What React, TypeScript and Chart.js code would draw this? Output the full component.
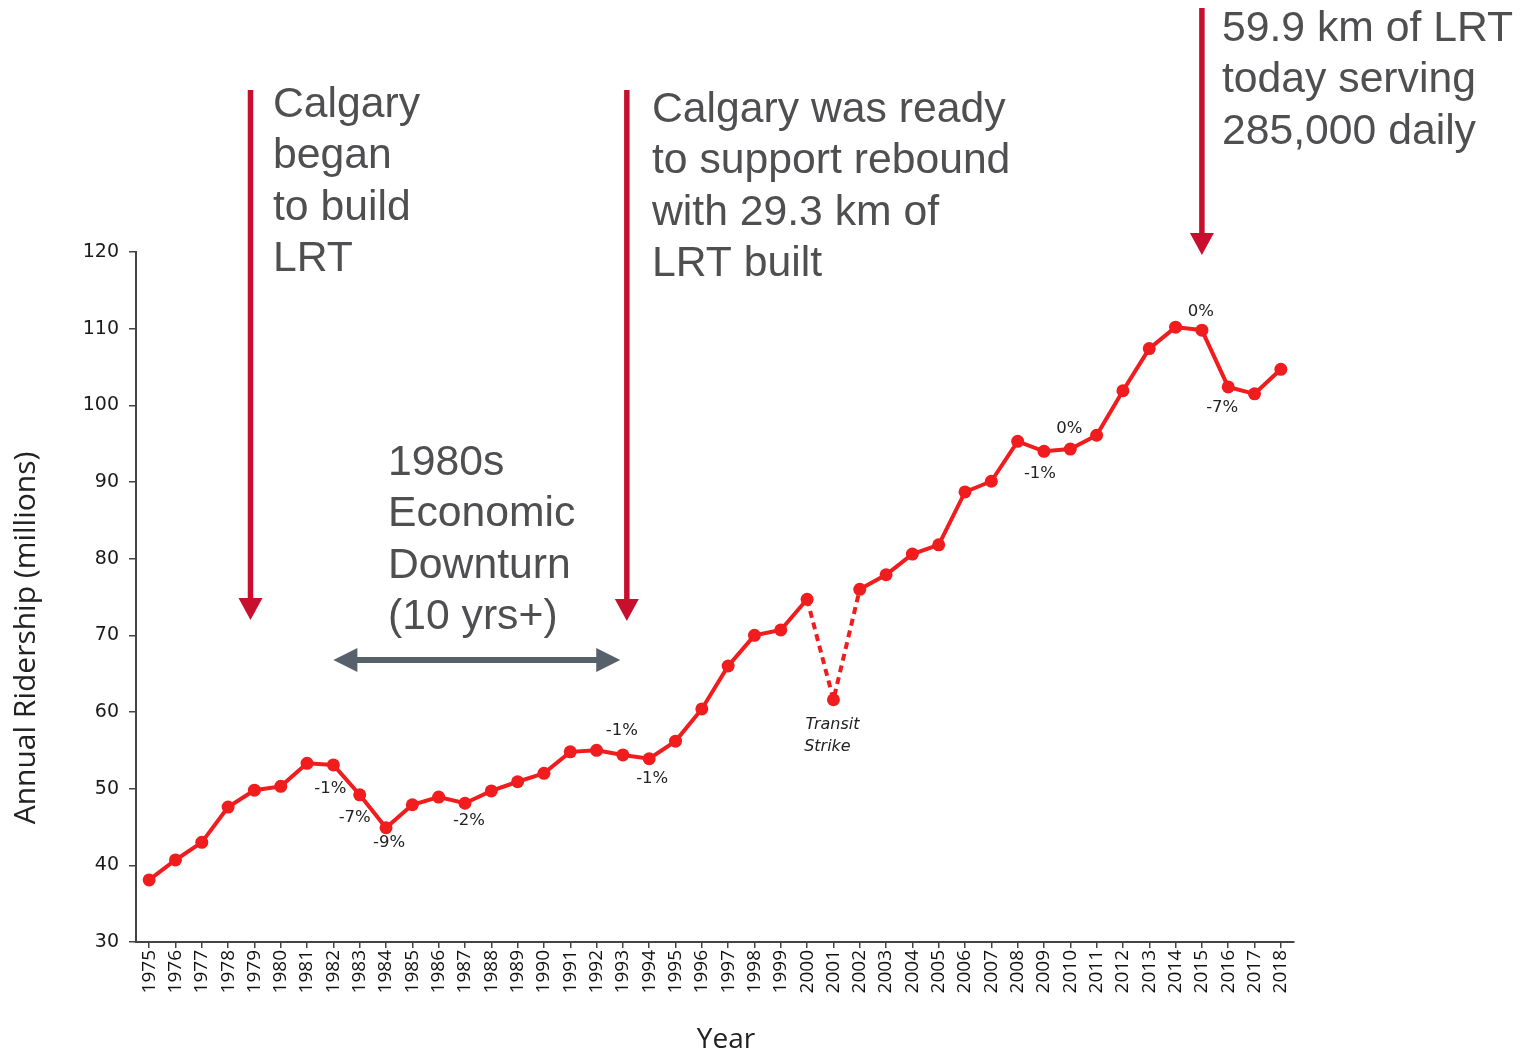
import React, { useEffect, useRef } from "react";
import { Chart, registerables } from "chart.js";

Chart.register(...registerables);

// ---------- data ----------
const YEARS = [
  "1975", "1976", "1977", "1978", "1979", "1980", "1981", "1982", "1983", "1984",
  "1985", "1986", "1987", "1988", "1989", "1990", "1991", "1992", "1993", "1994",
  "1995", "1996", "1997", "1998", "1999", "2000", "2001", "2002", "2003", "2004",
  "2005", "2006", "2007", "2008", "2009", "2010", "2011", "2012", "2013", "2014",
  "2015", "2016", "2017", "2018",
];

const RIDERSHIP = [
  38.1, 40.7, 43.0, 47.6, 49.8, 50.3, 53.3, 53.1, 49.2, 44.9,
  47.9, 48.9, 48.1, 49.7, 50.9, 52.0, 54.8, 55.0, 54.4, 53.9,
  56.2, 60.4, 66.0, 70.0, 70.7, 74.7, 61.6, 76.0, 77.9, 80.6,
  81.8, 88.7, 90.1, 95.3, 94.0, 94.3, 96.1, 101.9, 107.4, 110.2,
  109.8, 102.4, 101.5, 104.7,
];

const Y_TICKS = [30, 40, 50, 60, 70, 80, 90, 100, 110, 120];

const PCT_LABEL_YEARS = ["1982", "1983", "1984", "1987", "1993", "1994", "2009", "2010", "2015", "2016"];
const PCT_LABEL_TEXT = ["-1%", "-7%", "-9%", "-2%", "-1%", "-1%", "-1%", "0%", "0%", "-7%"];

const STRIKE_YEAR = "2001";
const STRIKE_TEXT = ["Transit", "Strike"];

const Y_TITLE = "Annual Ridership (millions)";
const X_TITLE = "Year";

const NOTE_BEGIN = ["Calgary", "began", "to build", "LRT"];
const NOTE_READY = ["Calgary was ready", "to support rebound", "with 29.3 km of", "LRT built"];
const NOTE_TODAY = ["59.9 km of LRT", "today serving", "285,000 daily"];
const NOTE_DOWNTURN = ["1980s", "Economic", "Downturn", "(10 yrs+)"];

// annotation anchors (category index, fractional allowed)
const ARROW_BEGIN_AT = 3.85;   // ~1979
const ARROW_READY_AT = 18.15;  // ~1993
const ARROW_TODAY_AT = 40;     // 2015
const DOWNTURN_FROM = 7;       // 1982
const DOWNTURN_TO = 17.9;      // ~1993

// ---------- layout / styles ----------
const PCT_OFFSETS: [number, number][] = [
  [-3, 24], [-5, 23], [3, 15], [4, 17], [-1, -24], [3, 20], [-4, 22], [-1, -20], [-1, -18], [-6, 21],
];

const RED = "rgb(240,28,30)";
const ARROW_RED = "#c8102e";
const NOTE_GRAY = "#4f4f52";
const ARROW_GRAY = "#56616b";
const AXIS_COLOR = "#444";

function vArrow(ctx: CanvasRenderingContext2D, x: number, top: number, tip: number) {
  const headH = 22;
  const headW = 12;
  ctx.fillStyle = ARROW_RED;
  ctx.fillRect(x - 2.75, top, 5.5, tip - top - headH + 1);
  ctx.beginPath();
  ctx.moveTo(x - headW, tip - headH);
  ctx.lineTo(x + headW, tip - headH);
  ctx.lineTo(x, tip);
  ctx.closePath();
  ctx.fill();
}

function hDoubleArrow(ctx: CanvasRenderingContext2D, x1: number, x2: number, y: number) {
  const headL = 24;
  const headW = 12;
  ctx.fillStyle = ARROW_GRAY;
  ctx.fillRect(x1 + headL - 1, y - 3, x2 - x1 - 2 * headL + 2, 6);
  ctx.beginPath();
  ctx.moveTo(x1, y);
  ctx.lineTo(x1 + headL, y - headW);
  ctx.lineTo(x1 + headL, y + headW);
  ctx.closePath();
  ctx.fill();
  ctx.beginPath();
  ctx.moveTo(x2, y);
  ctx.lineTo(x2 - headL, y - headW);
  ctx.lineTo(x2 - headL, y + headW);
  ctx.closePath();
  ctx.fill();
}

function noteLines(ctx: CanvasRenderingContext2D, lines: string[], x: number, firstBaseline: number) {
  ctx.fillStyle = NOTE_GRAY;
  ctx.font = '42.7px "Liberation Sans", Arial, sans-serif';
  ctx.textAlign = "left";
  ctx.textBaseline = "alphabetic";
  lines.forEach((l, i) => ctx.fillText(l, x, firstBaseline + i * 51.3));
}

const annotationPlugin = {
  id: "ridershipAnnotations",
  afterDraw(chart: any) {
    const ctx: CanvasRenderingContext2D = chart.ctx;
    const xs = chart.scales.x;
    const meta = chart.getDatasetMeta(0);
    const area = chart.chartArea;
    ctx.save();

    // percent labels
    ctx.fillStyle = "#222";
    ctx.font = '16.5px "DejaVu Sans", Verdana, sans-serif';
    ctx.textAlign = "center";
    ctx.textBaseline = "middle";
    PCT_LABEL_YEARS.forEach((yr, i) => {
      const pt = meta.data[YEARS.indexOf(yr)];
      const [dx, dy] = PCT_OFFSETS[i];
      ctx.fillText(PCT_LABEL_TEXT[i], pt.x + dx, pt.y + dy);
    });

    // transit strike
    const sp = meta.data[YEARS.indexOf(STRIKE_YEAR)];
    ctx.font = 'italic 16px "DejaVu Sans", Verdana, sans-serif';
    ctx.fillText(STRIKE_TEXT[0], sp.x - 1, sp.y + 25);
    ctx.fillText(STRIKE_TEXT[1], sp.x - 6, sp.y + 47);

    // axis titles
    ctx.fillStyle = "#222";
    ctx.font = '30px "Open Sans", sans-serif';
    ctx.textAlign = "center";
    ctx.textBaseline = "middle";
    ctx.save();
    ctx.translate(26, 638);
    ctx.rotate(-Math.PI / 2);
    ctx.fillText(Y_TITLE, 0, 0);
    ctx.restore();
    ctx.font = '28px "Open Sans", sans-serif';
    ctx.fillText(X_TITLE, (area.left + area.right) / 2 + 11, 1040);

    // arrows
    vArrow(ctx, xs.getPixelForValue(ARROW_BEGIN_AT), 90, 620);
    vArrow(ctx, xs.getPixelForValue(ARROW_READY_AT), 90, 621);
    vArrow(ctx, xs.getPixelForValue(ARROW_TODAY_AT), 8, 255);
    hDoubleArrow(ctx, xs.getPixelForValue(DOWNTURN_FROM), xs.getPixelForValue(DOWNTURN_TO), 660);

    // notes
    noteLines(ctx, NOTE_BEGIN, 273, 117);
    noteLines(ctx, NOTE_READY, 652, 122);
    noteLines(ctx, NOTE_TODAY, 1222, 41);
    noteLines(ctx, NOTE_DOWNTURN, 388, 475);

    ctx.restore();
  },
};

export default function App() {
  const ref = useRef<HTMLCanvasElement>(null);

  useEffect(() => {
    const canvas = ref.current;
    if (!canvas) return;
    const chart = new Chart(canvas, {
      type: "line",
      data: {
        labels: YEARS,
        datasets: [
          {
            data: RIDERSHIP,
            borderColor: RED,
            backgroundColor: RED,
            borderWidth: 4,
            pointRadius: 6.5,
            pointBackgroundColor: RED,
            pointBorderWidth: 0,
            tension: 0,
            fill: false,
            segment: {
              borderDash: (c: any) =>
                c.p0DataIndex === YEARS.indexOf("2000") || c.p0DataIndex === YEARS.indexOf("2001")
                  ? [7, 5]
                  : undefined,
            },
          },
        ],
      },
      options: {
        responsive: false,
        animation: false,
        devicePixelRatio: 1,
        layout: { padding: { left: 0, top: 252, right: 233, bottom: 0 } },
        plugins: {
          legend: { display: false },
          tooltip: { enabled: false },
          title: { display: false },
        },
        scales: {
          x: {
            type: "category",
            offset: true,
            grid: {
              display: true,
              drawOnChartArea: false,
              drawTicks: true,
              tickLength: 6,
              color: AXIS_COLOR,
              lineWidth: 1.5,
              offset: false,
            },
            border: { display: true, color: AXIS_COLOR, width: 2 },
            ticks: {
              autoSkip: false,
              maxRotation: 90,
              minRotation: 90,
              color: "#111",
              padding: 2,
              font: { family: '"Open Sans", sans-serif', size: 19 },
            },
            afterFit: (s: any) => {
              s.height = 112;
            },
          },
          y: {
            min: 30,
            max: 120,
            afterBuildTicks: (s: any) => {
              s.ticks = Y_TICKS.map((v) => ({ value: v }));
            },
            grid: {
              display: true,
              drawOnChartArea: false,
              drawTicks: true,
              tickLength: 7,
              color: AXIS_COLOR,
              lineWidth: 1.5,
            },
            border: { display: true, color: AXIS_COLOR, width: 2 },
            ticks: {
              color: "#1a1a1a",
              padding: 10,
              font: { family: '"DejaVu Sans", Verdana, sans-serif', size: 19 },
            },
            afterFit: (s: any) => {
              s.width = 136;
            },
          },
        },
      },
      plugins: [annotationPlugin],
    } as any);
    return () => chart.destroy();
  }, []);

  return (
    <div style={{ position: "fixed", left: 0, top: 0, width: 1527, height: 1054, background: "#fff" }}>
      <canvas ref={ref} width={1527} height={1054} style={{ width: 1527, height: 1054, display: "block" }} />
    </div>
  );
}
